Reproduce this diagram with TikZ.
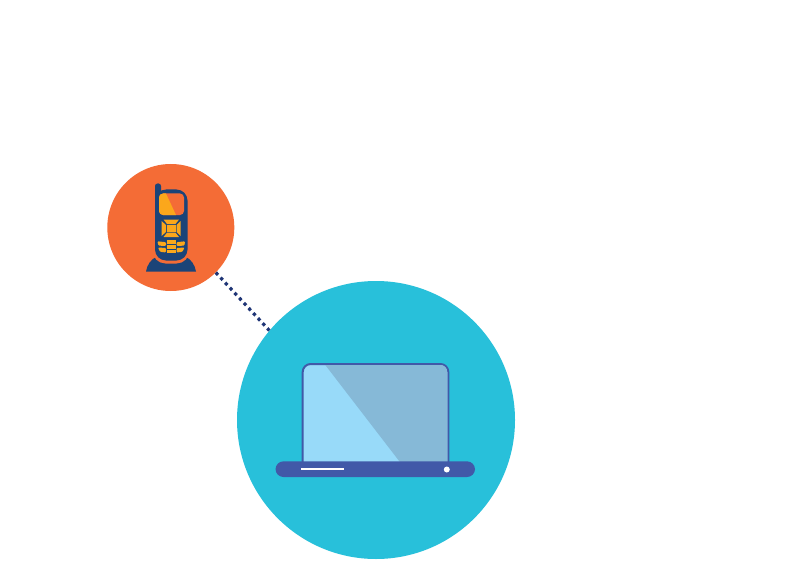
\documentclass[tikz,border=0pt]{standalone}
\definecolor{phoneorange}{HTML}{F46C36}
\definecolor{bigteal}{HTML}{28C0DA}
\definecolor{navyblue}{HTML}{1B4478}
\definecolor{keyyellow}{HTML}{FBA71B}
\definecolor{dotnavy}{HTML}{1F3576}
\definecolor{lapblue}{HTML}{4159A8}
\definecolor{screenlight}{HTML}{98DAF9}
\definecolor{screendark}{HTML}{86B9D7}
\tikzset{
  disc/.style={circle,inner sep=0pt,draw=none},
  dotted link/.style={draw=dotnavy,line width=3.2pt,dash pattern=on 3.2pt off 3.7pt},
  keypart/.style={fill=keyyellow,draw=none},
  phonepart/.style={fill=navyblue,draw=none},
}
\begin{document}
\begin{tikzpicture}[x=1pt,y=-1pt]
\useasboundingbox (0,0) rectangle (800,588);
\fill[white] (0,0) rectangle (800,588);
\node[disc,fill=phoneorange,minimum size=127pt] (phone) at (170.8,227.5) {};
\node[disc,fill=bigteal,minimum size=278pt] (laptop) at (376,420) {};
\draw[dotted link] (phone.-45) -- (laptop.140);
% phone stand
\fill[phonepart] (146,271.5) .. controls (147,265) and (151,259) .. (157,256.5) -- (185,256.5) .. controls (191,259) and (195,265) .. (196,271.5) -- cycle;
\fill[fill=phoneorange,rounded corners=13pt] (152.5,240) rectangle (189.5,263.5);
% phone body
\fill[phonepart,rounded corners=2.5pt] (155,230) -- (155,183.5) -- (161,183.5) -- (161,230) -- cycle;
\fill[phonepart,rounded corners=11pt] (155,189.5) -- (187.5,189.5) -- (187.5,260.5) -- (155,260.5) -- cycle;
% screen
\fill[phoneorange,rounded corners=4pt] (159,193.5) rectangle (184,215);
\begin{scope}
\clip[rounded corners=4pt] (159,193.5) rectangle (184,215);
\fill[keyyellow] (159,193.5) -- (166,193.5) -- (176,215) -- (159,215) -- cycle;
\end{scope}
% d-pad
\fill[keypart] (163.5,219.5) -- (179,219.5) -- (175.5,224) -- (167,224) -- cycle;
\fill[keypart] (163.5,237) -- (179,237) -- (175.5,232.7) -- (167,232.7) -- cycle;
\fill[keypart] (161.5,221) -- (166,225) -- (166,232) -- (161.5,236) -- cycle;
\fill[keypart] (180.5,221) -- (176.5,225) -- (176.5,232) -- (180.5,236) -- cycle;
\fill[keypart] (167,224.8) rectangle (175.5,232);
% keys
\fill[keypart,rounded corners=1pt] (157.5,241.3) -- (166,242.2) -- (166,246) -- (158.3,245.6) -- cycle;
\fill[keypart,rounded corners=1pt] (158,247.5) -- (166,248) -- (166,252.5) -- (160,251.8) -- cycle;
\fill[keypart,rounded corners=1pt] (185,241.3) -- (176.5,242.2) -- (176.5,246) -- (184.5,245.6) -- cycle;
\fill[keypart,rounded corners=1pt] (184.5,247.5) -- (176.5,248) -- (176.5,252.5) -- (182.5,251.8) -- cycle;
\fill[keypart] (167,240.3) rectangle (175.5,243.9);
\fill[keypart] (167,244.9) rectangle (175.5,248.5);
\fill[keypart] (167,249.6) rectangle (175.5,253.3);
% laptop screen
\draw[draw=lapblue,line width=2pt,fill=screenlight,rounded corners=8pt] (302.7,364) rectangle (448.3,470);
\begin{scope}
\clip[rounded corners=7pt] (303.7,365) rectangle (447.3,469);
\fill[screendark] (324.5,364) -- (449,364) -- (449,470) -- (399.5,470) -- (399.5,461.5) -- cycle;
\end{scope}
% laptop base
\fill[lapblue,rounded corners=8pt] (275.5,461.3) rectangle (475,477);
\draw[white,line width=2.3pt] (301,469.2) -- (344,469.2);
\fill[white] (446.8,469.5) circle (3pt);
\end{tikzpicture}
\end{document}
